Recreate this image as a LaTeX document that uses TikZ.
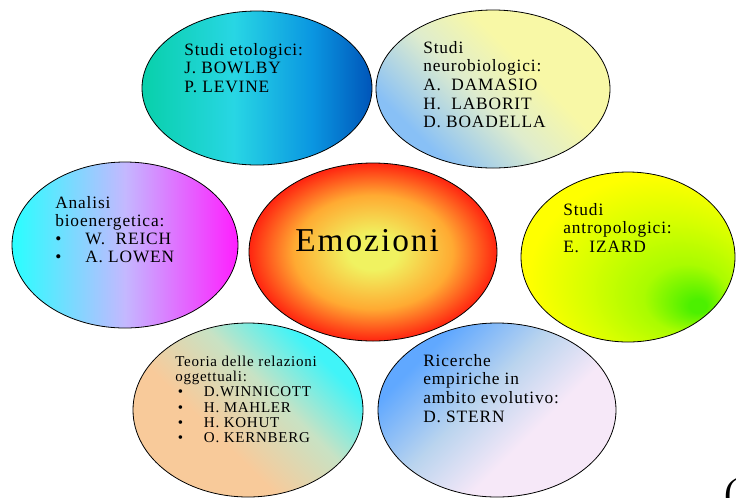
\documentclass[tikz,border=0pt]{standalone}
\usepackage{fontspec}
\setmainfont{Liberation Serif}
\newfontfamily\lsp[LetterSpace=5]{Liberation Serif}
\newfontfamily\lspbig[LetterSpace=6]{Liberation Serif}
\usetikzlibrary{shapes.geometric}

\definecolor{etolA}{RGB}{8,208,170}
\definecolor{etolB}{RGB}{40,214,228}
\definecolor{etolC}{RGB}{10,150,225}
\definecolor{etolD}{RGB}{0,85,185}
\definecolor{neuB}{RGB}{136,192,246}
\definecolor{neuM}{RGB}{222,236,206}
\definecolor{neuY}{RGB}{248,248,166}
\definecolor{anaC}{RGB}{40,255,255}
\definecolor{anaM}{RGB}{196,184,255}
\definecolor{anaP}{RGB}{255,30,255}
\definecolor{emoA}{RGB}{240,242,96}
\definecolor{emoB}{RGB}{255,170,50}
\definecolor{emoC}{RGB}{255,36,16}
\definecolor{antG}{RGB}{76,240,0}
\definecolor{antL}{RGB}{170,252,0}
\definecolor{antK}{RGB}{215,255,0}
\definecolor{antY}{RGB}{255,255,0}
\definecolor{teoP}{RGB}{248,202,154}
\definecolor{teoM}{RGB}{200,226,196}
\definecolor{teoC}{RGB}{64,244,248}
\definecolor{ricB}{RGB}{96,168,255}
\definecolor{ricM}{RGB}{186,212,238}
\definecolor{ricP}{RGB}{246,232,248}

\pgfdeclarehorizontalshading{etolsh}{100bp}{color(0bp)=(etolA); color(25bp)=(etolA); color(45bp)=(etolB); color(62bp)=(etolC); color(75bp)=(etolD); color(100bp)=(etolD)}
\pgfdeclareverticalshading{neush}{100bp}{color(0bp)=(neuB); color(28bp)=(neuB); color(46bp)=(neuM); color(60bp)=(neuY); color(100bp)=(neuY)}
\pgfdeclarehorizontalshading{anash}{100bp}{color(0bp)=(anaC); color(25bp)=(anaC); color(50bp)=(anaM); color(75bp)=(anaP); color(100bp)=(anaP)}
\pgfdeclareradialshading{emosh}{\pgfpointorigin}{color(0bp)=(emoA); color(5bp)=(emoA); color(16bp)=(emoB); color(25bp)=(emoC); color(50bp)=(emoC)}
\pgfdeclareradialshading{antsh}{\pgfpoint{17bp}{-15bp}}{color(0bp)=(antG); color(2bp)=(antG); color(10bp)=(antL); color(20bp)=(antK); color(30bp)=(antY); color(50bp)=(antY)}
\pgfdeclareverticalshading{teosh}{100bp}{color(0bp)=(teoP); color(40bp)=(teoP); color(57bp)=(teoM); color(72bp)=(teoC); color(100bp)=(teoC)}
\pgfdeclareverticalshading{ricsh}{100bp}{color(0bp)=(ricP); color(40bp)=(ricP); color(55bp)=(ricM); color(72bp)=(ricB); color(100bp)=(ricB)}

\tikzset{
  bubble/.style={ellipse, draw=black, line width=0.6pt, inner sep=0pt},
  txt/.style={anchor=base west, inner sep=0pt, font=\lsp\fontsize{13}{14}\selectfont},
  smalltxt/.style={anchor=base west, inner sep=0pt, font=\lsp\fontsize{11.25}{11.5}\selectfont},
}
\newcommand{\bul}[1]{\makebox[#1][l]{\textbullet}}

\begin{document}
\begin{tikzpicture}[x=0.75pt, y=-0.75pt]
\useasboundingbox (0,0) rectangle (736,497);
\clip (0,0) rectangle (736,497);

\node[bubble, shade, shading=etolsh, minimum width=172.5pt, minimum height=115.5pt] (etol) at (257,88) {};
\node[bubble, shade, shading=neush, shading angle=-45, minimum width=175.5pt, minimum height=118.5pt] (neuro) at (493,89) {};
\node[bubble, shade, shading=anash, minimum width=169.5pt, minimum height=124.5pt] (anal) at (125,245) {};
\node[bubble, shade, shading=antsh, minimum width=160.5pt, minimum height=127.5pt] (antro) at (628,257) {};
\node[bubble, shade, shading=teosh, shading angle=-45, minimum width=172.5pt, minimum height=130.5pt] (teoria) at (248,410) {};
\node[bubble, shade, shading=ricsh, shading angle=45, minimum width=178.5pt, minimum height=130.5pt] (ricerche) at (497,410) {};
\node[bubble, shade, shading=emosh, minimum width=186pt, minimum height=133.5pt] (emo) at (373,252) {};

\node[txt] (tetol) at (184,55) {\begin{tabular}[t]{@{}l@{}}Studi etologici:\\J. BOWLBY\\P. LEVINE\end{tabular}};
\node[txt] (tneuro) at (423,53) {\begin{tabular}[t]{@{}l@{}}Studi\\neurobiologici:\\A.\ \ DAMASIO\\H.\ \ LABORIT\\D. BOADELLA\end{tabular}};
\node[txt, font=\lsp\fontsize{13}{13.5}\selectfont] (tanal) at (55,208) {\begin{tabular}[t]{@{}l@{}}Analisi\\bioenergetica:\\\bul{22.5pt}W.\ \ REICH\\\bul{22.5pt}A. LOWEN\end{tabular}};
\node[txt] (tantro) at (563,215) {\begin{tabular}[t]{@{}l@{}}Studi\\antropologici:\\E.\ \ IZARD\end{tabular}};
\node[smalltxt] (tteoria) at (175,366) {\begin{tabular}[t]{@{}l@{}}Teoria delle relazioni\\oggettuali:\\\hspace{2pt}\bul{19.5pt}D.WINNICOTT\\\hspace{2pt}\bul{19.5pt}H. MAHLER\\\hspace{2pt}\bul{19.5pt}H. KOHUT\\\hspace{2pt}\bul{19.5pt}O. KERNBERG\end{tabular}};
\node[txt] (tric) at (423,366) {\begin{tabular}[t]{@{}l@{}}Ricerche\\empiriche in\\ambito evolutivo:\\D. STERN\end{tabular}};
\node[anchor=base west, inner sep=0pt, font=\lspbig\fontsize{25}{30}\selectfont] (temo) at (295,251) {Emozioni};
\node[anchor=base west, inner sep=0pt, font=\fontsize{30}{36}\selectfont] (paren) at (724,506) {(};
\end{tikzpicture}
\end{document}
